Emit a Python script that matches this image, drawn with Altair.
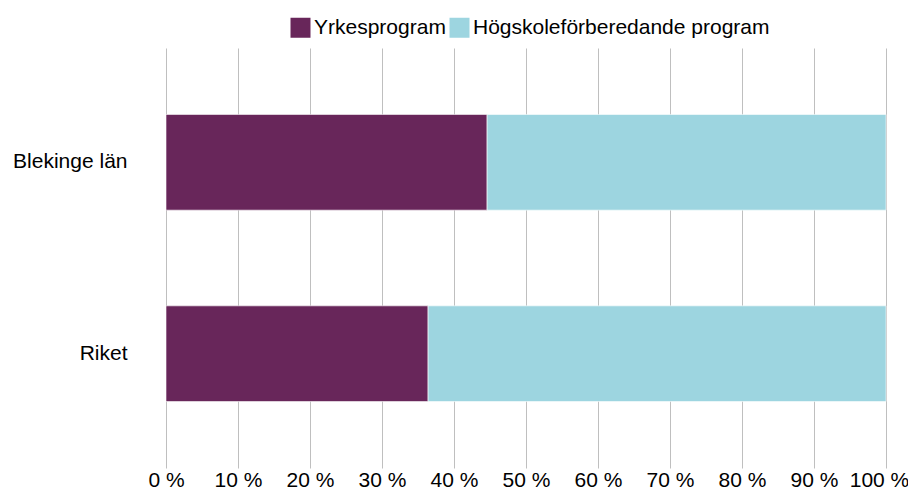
import altair as alt
import pandas as pd

regions = ["Blekinge län", "Riket"]
programs = ["Yrkesprogram", "Högskoleförberedande program"]
yrkes = [44.6, 36.4]
hogskole = [55.4, 63.6]
colors = ["#68265A", "#9DD5E0"]
x_ticks = [0, 10, 20, 30, 40, 50, 60, 70, 80, 90, 100]

rows = []
for i, r in enumerate(regions):
    rows.append({"region": r, "program": programs[0], "value": yrkes[i], "ord": 0})
    rows.append({"region": r, "program": programs[1], "value": hogskole[i], "ord": 1})
df = pd.DataFrame(rows)

font = "Liberation Sans"
fs = 21

chart = alt.Chart(df).mark_bar(stroke="#ffffff", strokeWidth=0.6).encode(
    y=alt.Y("region:N", sort=regions, title=None,
            scale=alt.Scale(paddingInner=0.5, paddingOuter=0.347),
            axis=alt.Axis(ticks=False, domain=False, labelPadding=39, labelFontSize=fs,
                          labelColor="#000000", labelFont=font, grid=False, labelLimit=300)),
    x=alt.X("value:Q", stack="zero", title=None,
            scale=alt.Scale(domain=[0, 100], nice=False),
            axis=alt.Axis(values=x_ticks, labelExpr="datum.value + ' %'", ticks=False, domain=False,
                          labelFontSize=fs, labelColor="#000000", labelFont=font, labelPadding=1,
                          labelOffset={"condition": {"test": "datum.value == 100", "value": -7}, "value": 0},
                          labelFlush=False, grid=True, gridColor="#BFBFBF", gridWidth=1)),
    color=alt.Color("program:N", sort=programs, title=None,
                    scale=alt.Scale(domain=programs, range=colors),
                    legend=alt.Legend(orient="none", legendX=124, legendY=-31, direction="horizontal",
                                      symbolType="square", symbolSize=400, symbolStrokeWidth=0,
                                      labelFontSize=fs, labelFont=font, labelColor="#000000",
                                      labelLimit=400, labelOffset=3, columnPadding=3,
                                      symbolOffset=0, padding=0)),
    order=alt.Order("ord:Q"),
).properties(
    width=720, height=420,
    autosize=alt.AutoSizeParams(type="none"),
    padding={"left": 158, "top": 40, "right": 22, "bottom": 21},
).configure_view(stroke=None)

chart.save("out.html", embed_options={"renderer": "svg", "actions": False})
